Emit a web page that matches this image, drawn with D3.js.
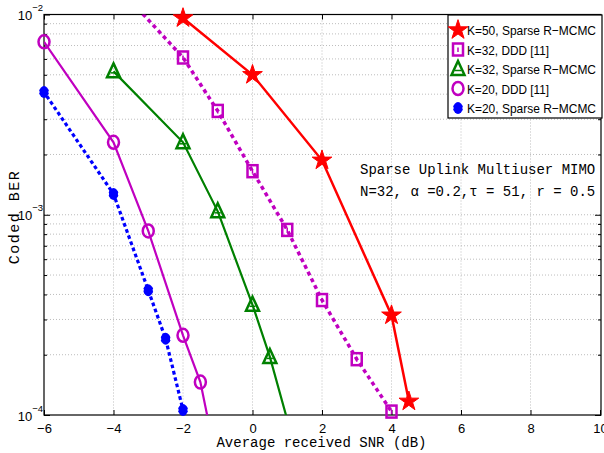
<!DOCTYPE html>
<html>
<head>
<meta charset="utf-8">
<script src="https://cdn.jsdelivr.net/npm/d3@7"></script>
<style>
  body { margin: 0; background: #fff; }
  svg { display: block; }
  .tick-label { font-family: "Liberation Sans", Arial, sans-serif; font-size: 13px; fill: #000; }
  .mono { font-family: "Liberation Mono", "Courier New", monospace; fill: #000; }
</style>
</head>
<body>
<svg id="chart" width="604" height="453"></svg>
<script>
// series x values (SNR dB) and BER values
const snrK50Sparse = [-2, 0, 2, 4, 4.5];
const berK50Sparse = [9.6e-3, 5.0e-3, 1.87e-3, 3.15e-4, 1.17e-4];

const snrK32DDD = [-4, -2, -1, 0, 1, 2, 3, 4];
const berK32DDD = [1.45e-2, 6.1e-3, 3.3e-3, 1.65e-3, 8.4e-4, 3.75e-4, 1.9e-4, 1.04e-4];

const snrK32Sparse = [-4, -2, -1, 0, 0.5, 1.5];
const berK32Sparse = [5.2e-3, 2.3e-3, 1.04e-3, 3.55e-4, 1.95e-4, 4.6e-5];

const snrK20DDD = [-6, -4, -3, -2, -1.5, -1];
const berK20DDD = [7.3e-3, 2.3e-3, 8.3e-4, 2.5e-4, 1.46e-4, 5.5e-5];

const snrK20Sparse = [-6, -4, -3, -2.5, -2];
const berK20Sparse = [4.1e-3, 1.27e-3, 4.2e-4, 2.4e-4, 1.06e-4];

const legendLabels = [
  "K=50, Sparse R\u2212MCMC",
  "K=32, DDD [11]",
  "K=32, Sparse R\u2212MCMC",
  "K=20, DDD [11]",
  "K=20, Sparse R\u2212MCMC"
];
const xTicks = [-6, -4, -2, 0, 2, 4, 6, 8, 10];
const yDecades = [1e-4, 1e-3, 1e-2];

let plotLeft = 44;
let plotRight = 601;
let plotTop = 14.5;
let plotBottom = 415;

const series = [
  { name: legendLabels[0], x: snrK50Sparse, y: berK50Sparse, color: "#ff0000", dash: null, width: 2.5, marker: "star" },
  { name: legendLabels[1], x: snrK32DDD, y: berK32DDD, color: "#c000c0", dash: "0.5,7", width: 3.5, marker: "square" },
  { name: legendLabels[2], x: snrK32Sparse, y: berK32Sparse, color: "#008000", dash: null, width: 2.2, marker: "triangle" },
  { name: legendLabels[3], x: snrK20DDD, y: berK20DDD, color: "#c000c0", dash: null, width: 2.2, marker: "circle" },
  { name: legendLabels[4], x: snrK20Sparse, y: berK20Sparse, color: "#0000ff", dash: "0.5,6", width: 3.2, marker: "blob" }
];

const svg = d3.select("#chart");

const xScale = d3.scaleLinear().domain([-6, 10]).range([plotLeft, plotRight - 1]);
const yScale = d3.scaleLog().domain([1e-4, 1e-2]).range([plotBottom, plotTop]);

// minor y values 2..9 in each decade
const yMinor = [];
[1e-4, 1e-3].forEach((d) => {
  for (let k = 2; k <= 9; k++) yMinor.push(d * k);
});

svg.append("defs").append("clipPath").attr("id", "plotClip")
  .append("rect")
  .attr("x", plotLeft).attr("y", plotTop)
  .attr("width", plotRight - plotLeft).attr("height", plotBottom - plotTop);

// grid
const grid = svg.append("g").attr("class", "grid");
grid.selectAll(".vgrid")
  .data(xTicks.filter((d) => d > -6 && d < 10))
  .join("line")
  .attr("x1", (d) => xScale(d)).attr("x2", (d) => xScale(d))
  .attr("y1", plotTop).attr("y2", plotBottom)
  .attr("stroke", "#bdbdbd").attr("stroke-dasharray", "1,2");
grid.selectAll(".hgrid")
  .data(yMinor.concat([1e-3]))
  .join("line")
  .attr("x1", plotLeft).attr("x2", plotRight)
  .attr("y1", (d) => yScale(d)).attr("y2", (d) => yScale(d))
  .attr("stroke", "#bdbdbd").attr("stroke-dasharray", "1,2");

// axes with inward ticks
const xAxis = d3.axisBottom(xScale).tickValues(xTicks).tickSize(-5).tickPadding(9)
  .tickFormat((d) => (d < 0 ? "\u2212" + Math.abs(d) : d));
svg.append("g")
  .attr("transform", `translate(0, ${plotBottom})`)
  .call(xAxis)
  .call((g) => g.select(".domain").remove())
  .call((g) => g.selectAll("text").attr("class", "tick-label").attr("font-size", null).attr("font-family", null));

svg.append("g")
  .attr("transform", `translate(0, ${plotTop})`)
  .call(d3.axisTop(xScale).tickValues(xTicks).tickSize(-5).tickFormat(""))
  .call((g) => g.select(".domain").remove());

const yAxisLeft = d3.axisLeft(yScale).tickValues(yMinor).tickSize(-3).tickFormat("");
svg.append("g").attr("transform", `translate(${plotLeft}, 0)`).call(yAxisLeft)
  .call((g) => g.select(".domain").remove());
svg.append("g").attr("transform", `translate(${plotLeft}, 0)`)
  .call(d3.axisLeft(yScale).tickValues(yDecades).tickSize(-6).tickFormat(""))
  .call((g) => g.select(".domain").remove());
svg.append("g").attr("transform", `translate(${plotRight}, 0)`)
  .call(d3.axisRight(yScale).tickValues(yMinor).tickSize(-3).tickFormat(""))
  .call((g) => g.select(".domain").remove());
svg.append("g").attr("transform", `translate(${plotRight}, 0)`)
  .call(d3.axisRight(yScale).tickValues(yDecades).tickSize(-6).tickFormat(""))
  .call((g) => g.select(".domain").remove());

// y tick labels as 10^k
const yLabels = svg.append("g");
yDecades.forEach((d) => {
  const t = yLabels.append("text")
    .attr("class", "tick-label")
    .attr("x", 43)
    .attr("y", yScale(d) + 5.5)
    .attr("text-anchor", "end");
  t.append("tspan").text("10");
  t.append("tspan").attr("dy", -9).attr("font-size", 9.5)
    .text("\u2212" + Math.abs(Math.round(Math.log10(d))));
});

// frame
svg.append("rect")
  .attr("x", plotLeft).attr("y", plotTop)
  .attr("width", plotRight - plotLeft).attr("height", plotBottom - plotTop)
  .attr("fill", "none").attr("stroke", "#000").attr("stroke-width", 1.2);

// lines
const line = d3.line().x((d) => xScale(d[0])).y((d) => yScale(d[1]));
const lines = svg.append("g").attr("clip-path", "url(#plotClip)");
series.forEach((s) => {
  lines.append("path")
    .datum(d3.zip(s.x, s.y))
    .attr("d", line)
    .attr("fill", "none")
    .attr("stroke", s.color)
    .attr("stroke-width", s.width)
    .attr("stroke-linecap", s.dash ? "square" : "butt")
    .attr("stroke-dasharray", s.dash);
});

// markers
const drawMarker = (g, type, color) => {
  if (type === "star") {
    g.append("path").attr("d", d3.symbol(d3.symbolStar, 120)())
      .attr("fill", color).attr("stroke", color).attr("stroke-width", 1);
  } else if (type === "square") {
    g.append("rect").attr("x", -5).attr("y", -6).attr("width", 10).attr("height", 12)
      .attr("fill", "none").attr("stroke", color).attr("stroke-width", 2.5);
    g.append("line").attr("x1", 0).attr("x2", 0).attr("y1", -2).attr("y2", 2.5)
      .attr("stroke", color).attr("stroke-width", 1.5);
  } else if (type === "triangle") {
    g.append("path").attr("d", "M0,-8 L6.5,6 L-6.5,6 Z")
      .attr("fill", "none").attr("stroke", color).attr("stroke-width", 2.5)
      .attr("stroke-linejoin", "miter");
    g.append("line").attr("x1", -3).attr("x2", 3).attr("y1", 1.5).attr("y2", 1.5)
      .attr("stroke", color).attr("stroke-width", 1.5);
  } else if (type === "circle") {
    g.append("ellipse").attr("rx", 5.5).attr("ry", 6.5)
      .attr("fill", "none").attr("stroke", color).attr("stroke-width", 2.5);
  } else if (type === "blob") {
    g.append("ellipse").attr("rx", 4.5).attr("ry", 6)
      .attr("fill", color);
    g.append("path").attr("d", d3.symbol(d3.symbolAsterisk, 70)())
      .attr("stroke", color).attr("stroke-width", 2.5);
  }
};

const markers = svg.append("g");
series.forEach((s) => {
  d3.zip(s.x, s.y)
    .filter((d) => d[1] >= 1e-4 && d[1] <= 1e-2 && d[0] >= -6 && d[0] <= 10)
    .forEach((d) => {
      const g = markers.append("g")
        .attr("transform", `translate(${xScale(d[0])}, ${yScale(d[1])})`);
      drawMarker(g, s.marker, s.color);
    });
});

// axis titles
svg.append("text")
  .attr("class", "mono")
  .attr("x", (plotLeft + plotRight) / 2 - 1)
  .attr("y", 447)
  .attr("text-anchor", "middle")
  .attr("font-size", 14)
  .text("Average received SNR (dB)");

svg.append("text")
  .attr("class", "mono")
  .attr("transform", "translate(19, 217) rotate(-90)")
  .attr("text-anchor", "middle")
  .attr("font-size", 15)
  .attr("letter-spacing", 1.5)
  .text("Coded  BER");

// annotation
svg.append("text").attr("class", "mono").attr("x", 360).attr("y", 174)
  .attr("font-size", 14).text("Sparse Uplink Multiuser MIMO");
svg.append("text").attr("class", "mono").attr("x", 360).attr("y", 196)
  .attr("font-size", 14).text("N=32, \u03b1 =0.2,\u03c4 = 51, r = 0.5");

// legend
const legend = svg.append("g");
legend.append("rect")
  .attr("x", 448).attr("y", 15).attr("width", 154).attr("height", 103)
  .attr("fill", "#fff").attr("stroke", "#000").attr("stroke-width", 1.2);
const legendY = d3.scalePoint().domain(legendLabels).range([30, 108]);
series.forEach((s) => {
  const yy = legendY(s.name);
  const g = legend.append("g").attr("transform", `translate(458, ${yy})`);
  drawMarker(g, s.marker, s.color);
  legend.append("text")
    .attr("class", "tick-label")
    .attr("x", 467)
    .attr("y", yy + 5)
    .attr("font-size", 12.5)
    .attr("textLength", s.name.length > 15 ? 129 : 82)
    .attr("lengthAdjust", "spacingAndGlyphs")
    .text(s.name);
});
</script>
</body>
</html>
